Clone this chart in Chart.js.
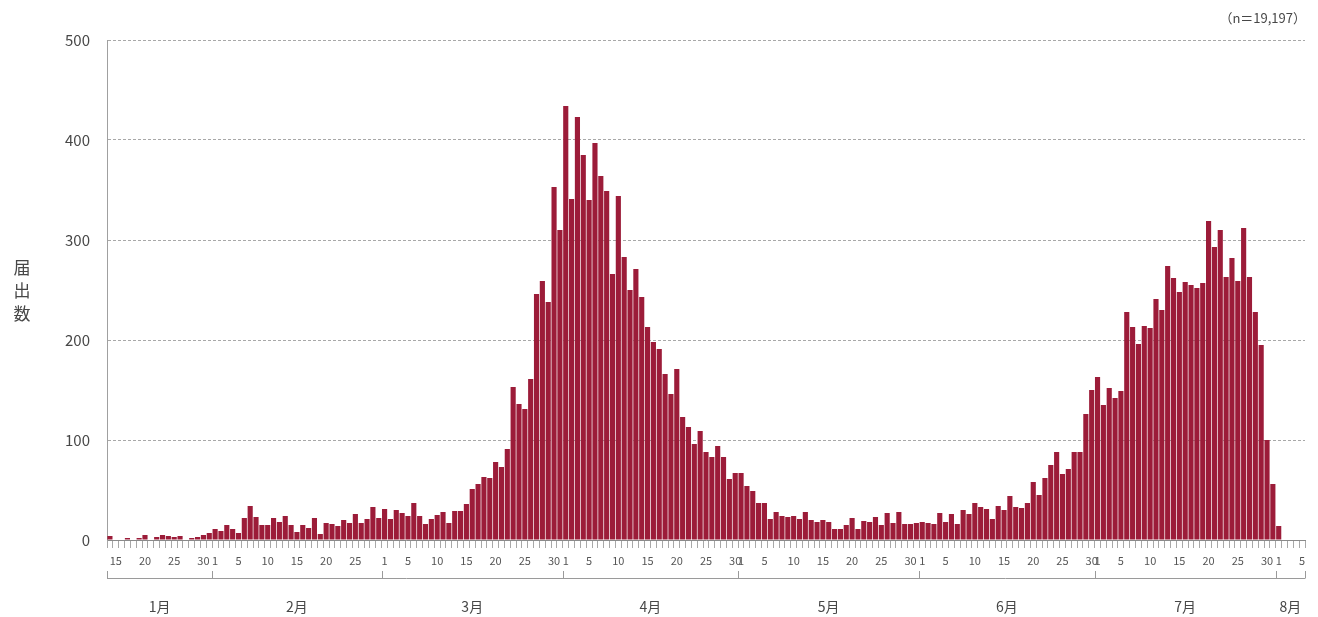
<!DOCTYPE html>
<html>
<head>
<meta charset="utf-8">
<script src="https://cdn.jsdelivr.net/npm/chart.js@4/dist/chart.umd.min.js"></script>
<style>
html,body{margin:0;padding:0;background:#fff;}
#wrap{width:1318px;height:617px;position:relative;}
</style>
</head>
<body>
<div id="wrap"><canvas id="c" width="1318" height="617"></canvas></div>
<script>
// ---- data ----
const startDay = 14; // first bar: 1月14日
const monthNames = ['1月','2月','3月','4月','5月','6月','7月','8月'];
const janValues = [4,0,0,2,0,2,5,0,3,5,4,3,4,0,2,3,5,7];
const febValues = [11,9,15,11,7,22,34,23,15,15,22,18,24,15,8,15,12,22,6,17,16,14,20,17,26,17,21,33,22];
const marValues = [31,21,30,27,24,37,24,16,21,25,28,17,29,29,36,51,56,63,62,78,73,91,153,136,131,161,246,259,238,353,310];
const aprValues = [434,341,423,385,340,397,364,349,266,344,283,250,271,243,213,198,191,166,146,171,123,113,96,109,88,83,94,83,61,67];
const mayValues = [67,54,49,37,37,21,28,24,23,24,21,28,20,18,20,18,11,11,15,22,11,19,18,23,15,27,17,28,16,16,17];
const junValues = [18,17,16,27,18,26,16,30,26,37,33,31,21,34,30,44,33,32,37,58,45,62,75,88,66,71,88,88,126,150];
const julValues = [163,135,152,142,149,228,213,196,214,212,241,230,274,262,248,258,255,252,257,319,293,310,263,282,259,312,263,228,195,100,56];
const augValues = [14,0,0,0,0];
const dayTickLabels = [1,5,10,15,20,25,30];
const yMax = 500, yStep = 100;
const nLabel = '（n＝19,197）';
const yTitle = '届出数';

// ---- derived tables ----
const monthSeries = [janValues,febValues,marValues,aprValues,mayValues,junValues,julValues,augValues];
const categories = [], values = [], dayOf = [], monthStart = [];
monthSeries.forEach((vals, m) => {
  monthStart.push(categories.length);
  vals.forEach((v, k) => {
    const d = (m === 0 ? startDay : 1) + k;
    categories.push((m + 1) + '/' + d);
    dayOf.push(d);
    values.push(v);
  });
});

const FONT = '"Noto Sans CJK JP", "Noto Sans", sans-serif';
const TXT = '#474747';

const decor = {
  id: 'decor',
  afterDraw(chart) {
    const {ctx, scales: {x}} = chart;
    const half = (x.getPixelForValue(1) - x.getPixelForValue(0)) / 2;
    const n = categories.length;
    const left = x.getPixelForValue(0) - half;
    const right = x.getPixelForValue(n - 1) + half;
    const lineY = 578;
    ctx.save();
    ctx.strokeStyle = '#9a9a9a';
    ctx.lineWidth = 1;
    ctx.beginPath();
    ctx.moveTo(left, lineY + 0.5);
    ctx.lineTo(right, lineY + 0.5);
    const bounds = monthStart.map(i => x.getPixelForValue(i) - half).concat([right]);
    bounds.forEach(b => {
      const bx = Math.round(b) + 0.5;
      ctx.moveTo(bx, lineY - 7);
      ctx.lineTo(bx, lineY + 0.5);
    });
    ctx.stroke();
    ctx.fillStyle = TXT;
    ctx.font = '14px ' + FONT;
    ctx.textAlign = 'center';
    ctx.textBaseline = 'middle';
    monthNames.forEach((name, m) => {
      ctx.fillText(name, (bounds[m] + bounds[m + 1]) / 2, 607);
    });
    // y title (stacked)
    ctx.font = '17px ' + FONT;
    [...yTitle].forEach((ch, k) => ctx.fillText(ch, 22, 268 + k * 23));
    // n label
    ctx.font = '13px ' + FONT;
    ctx.textAlign = 'right';
    ctx.fillText(nLabel, 1306, 18);
    ctx.restore();
  }
};

new Chart(document.getElementById('c'), {
  type: 'bar',
  data: {
    labels: categories,
    datasets: [{
      data: values,
      backgroundColor: '#9c1c39',
      borderWidth: 0,
      barPercentage: 0.88,
      categoryPercentage: 1.0
    }]
  },
  options: {
    responsive: false,
    animation: false,
    layout: {padding: {top: 40, right: 13, left: 0, bottom: 0}},
    plugins: {legend: {display: false}, tooltip: {enabled: false}},
    scales: {
      x: {
        offset: true,
        grid: {display: true, drawOnChartArea: false, drawTicks: true, tickLength: 8, color: '#a8a8a8', offset: true},
        border: {display: true, color: '#8a8a8a', width: 1},
        ticks: {
          autoSkip: false, maxRotation: 0, minRotation: 0, padding: 6,
          color: '#555', font: {size: 11, family: FONT},
          callback: (v, i) => dayTickLabels.includes(dayOf[i]) ? String(dayOf[i]) : ''
        },
        afterFit: s => { s.height = 77; }
      },
      y: {
        min: 0, max: yMax,
        ticks: {stepSize: yStep, padding: 17, color: TXT, font: {size: 15, family: FONT}},
        grid: {drawTicks: false, color: c => c.tick.value === 0 ? 'rgba(0,0,0,0)' : '#a8a8a8', lineWidth: 1},
        border: {display: true, color: '#a0a0a0', width: 1, dash: [3, 2]},
        afterFit: s => { s.width = 107; }
      }
    }
  },
  plugins: [decor]
});
</script>
</body>
</html>
